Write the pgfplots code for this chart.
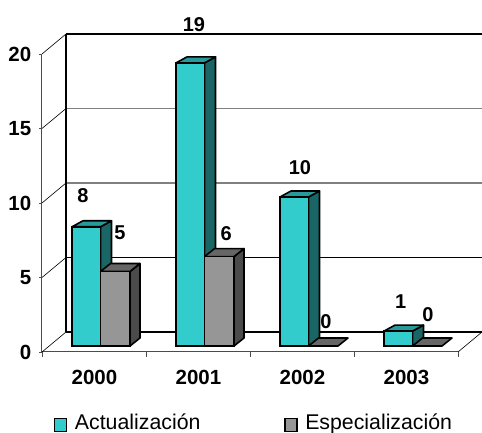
\documentclass[border=0pt]{standalone}
\usepackage{fontspec}
\setmainfont{Liberation Sans}
\usepackage{pgfplots}
\pgfplotsset{compat=1.18}
\definecolor{tealF}{HTML}{33CCCC}
\definecolor{tealS}{HTML}{1A6666}
\definecolor{tealT}{HTML}{299A9A}
\definecolor{greyF}{HTML}{969696}
\definecolor{greyS}{HTML}{4B4B4B}
\definecolor{greyT}{HTML}{666666}
\pgfplotsset{
  face/.style={draw=black,line width=1.6pt,line join=round,no markers,forget plot,fill=#1},
  wall/.style={draw=#1,line width=1.1pt,no markers,forget plot},
  diag/.style={draw=black,line width=0.6pt,no markers,forget plot},
}
\begin{document}
\begin{tikzpicture}[x=1pt,y=1pt]
\useasboundingbox (0,0) rectangle (482,433);
\begin{axis}[
  at={(42pt,81pt)},anchor=south west,
  scale only axis,width=416pt,height=298pt,
  xmin=-0.5,xmax=3.5,ymin=0,ymax=20,
  clip=false,
  axis x line*=bottom,axis y line*=left,
  axis line style={draw=black!70,line width=1pt,-},
  tick align=outside,
  tickwidth=2.5pt,subtickwidth=5pt,
  tick style={draw=black!70,line width=0.8pt},
  xtick={0,1,2,3},
  xticklabels={2000,2001,2002,2003},
  minor xtick={-0.5,0.5,1.5,2.5,3.5},
  major x tick style={draw=none},
  ytick={0,5,10,15,20},
  /pgf/number format/assume math mode=true,
  tick label style={font=\fontsize{20.5}{21}\selectfont\bfseries},
  xticklabel style={anchor=center,yshift=-23pt,xshift=0.5pt},
  yticklabel style={anchor=east,xshift=-6pt,inner sep=2pt},
  legend columns=2,
  legend style={at={(axis cs:-0.385,-4.76)},anchor=west,draw=none,fill=none,
    inner sep=0pt,font=\fontsize{21.3}{22}\selectfont,
    /tikz/every even column/.append style={column sep=84pt},
    /tikz/every odd column/.append style={column sep=7.5pt},
    nodes={inner sep=0pt,anchor=base west}},
  legend cell align=left,
  legend image code/.code={\draw[#1,line width=1.3pt] (0pt,-8pt) rectangle (12pt,5pt);},
]
% back wall and floor
\addplot[wall=gray] coordinates {(-0.2692,11.342) (3.7308,11.342)};
\addplot[wall=gray] coordinates {(-0.2692,16.342) (3.7308,16.342)};
\addplot[wall=black] coordinates {(-0.2692,6.342) (3.7308,6.342)};
\addplot[wall=black] coordinates {(-0.2692,21.342) (3.7308,21.342)};
\addplot[wall=black] coordinates {(-0.2692,1.342) (3.7308,1.342)};
\addplot[wall=black] coordinates {(-0.2692,1.342) (-0.2692,21.342)};
\addplot[diag] coordinates {(-0.5,0) (-0.2692,1.342)};
\addplot[diag] coordinates {(-0.5,5) (-0.2692,6.342)};
\addplot[diag] coordinates {(-0.5,10) (-0.2692,11.342)};
\addplot[diag] coordinates {(-0.5,15) (-0.2692,16.342)};
\addplot[diag] coordinates {(-0.5,20) (-0.2692,21.342)};
\addplot[diag] coordinates {(3.5,0) (3.7308,1.342)};
% teal side and top faces
\addplot[face=tealS] coordinates {(0.0625,0.403) (0.0625,8.403) (0.1683,8.806) (0.1683,0.806)} -- cycle;
\addplot[face=tealT] coordinates {(-0.2115,8.403) (0.0625,8.403) (0.1683,8.806) (-0.1057,8.806)} -- cycle;
\addplot[face=tealS] coordinates {(1.0625,0.403) (1.0625,19.403) (1.1683,19.806) (1.1683,0.806)} -- cycle;
\addplot[face=tealT] coordinates {(0.7885,19.403) (1.0625,19.403) (1.1683,19.806) (0.8943,19.806)} -- cycle;
\addplot[face=tealS] coordinates {(2.0625,0.403) (2.0625,10.403) (2.1683,10.806) (2.1683,0.806)} -- cycle;
\addplot[face=tealT] coordinates {(1.7885,10.403) (2.0625,10.403) (2.1683,10.806) (1.8943,10.806)} -- cycle;
\addplot[face=tealS] coordinates {(3.0625,0.403) (3.0625,1.403) (3.1683,1.806) (3.1683,0.806)} -- cycle;
\addplot[face=tealT] coordinates {(2.7885,1.403) (3.0625,1.403) (3.1683,1.806) (2.8943,1.806)} -- cycle;
% grey side and top faces
\addplot[face=greyS] coordinates {(0.346,0.403) (0.346,5.403) (0.4422,5.94) (0.4422,0.94)} -- cycle;
\addplot[face=greyT] coordinates {(0.0625,5.403) (0.346,5.403) (0.4422,5.94) (0.1587,5.94)} -- cycle;
\addplot[face=greyS] coordinates {(1.346,0.403) (1.346,6.403) (1.4422,6.94) (1.4422,0.94)} -- cycle;
\addplot[face=greyT] coordinates {(1.0625,6.403) (1.346,6.403) (1.4422,6.94) (1.1587,6.94)} -- cycle;
\addplot[face=greyT] coordinates {(2.0625,0.403) (2.346,0.403) (2.4422,0.94) (2.1587,0.94)} -- cycle;
\addplot[face=greyT] coordinates {(3.0625,0.403) (3.346,0.403) (3.4422,0.94) (3.1587,0.94)} -- cycle;
% front faces: the data
\addplot[ybar,bar width=28.5pt,bar shift=-7.75pt,yshift=6pt,fill=tealF,draw=black,line width=1.6pt]
  coordinates {(0,8) (1,19) (2,10) (3,1)};
\addlegendentry{Actualización}
\addplot[ybar,bar width=29.5pt,bar shift=21.25pt,yshift=6pt,fill=greyF,draw=black,line width=1.6pt]
  coordinates {(0,5) (1,6) (2,0) (3,0)};
\addlegendentry{Especialización}
% data labels
\begin{scope}[every node/.style={font=\fontsize{20}{21}\selectfont\bfseries,inner sep=0pt}]
\node at (axis cs:-0.106,10.5) {8};
\node at (axis cs:0.25,8.03) {5};
\node at (axis cs:0.9615,21.99) {19};
\node at (axis cs:1.27,7.97) {6};
\node at (axis cs:1.98,12.4) {10};
\node at (axis cs:2.23,2.07) {0};
\node at (axis cs:2.95,3.35) {1};
\node at (axis cs:3.21,2.5) {0};
\end{scope}
\end{axis}
\end{tikzpicture}
\end{document}
